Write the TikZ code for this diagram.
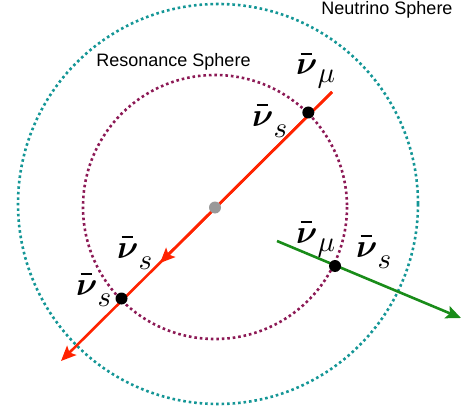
\documentclass[tikz,border=0pt]{standalone}
\usepackage{fontspec}
\setmainfont{Liberation Sans}
\usepackage{graphicx}
\usepackage{amsmath}
\usepackage{bm}
\usetikzlibrary{arrows.meta}
\definecolor{tealc}{RGB}{20,150,150}
\definecolor{maroonc}{RGB}{140,25,85}
\definecolor{redc}{RGB}{255,35,0}
\definecolor{greenc}{RGB}{25,140,25}
\newcommand\nulab[2]{\rlap{\hspace{4.5pt}\rule[20pt]{11pt}{2pt}}\scalebox{3.3}{$\bm{\nu}$}\raisebox{-#2pt}{\scalebox{2.9}{$#1$}}}
\tikzset{
  dotline/.style={line width=2.6pt, dash pattern=on 2.6pt off 2.9pt},
  ray/.style={line width=2.6pt, -{Stealth[length=15pt,width=13pt,inset=3pt]}},
  bdot/.style={circle, fill=black, inner sep=0pt, minimum size=12pt},
  gdot/.style={circle, fill=black!40, inner sep=0pt, minimum size=12pt},
  sph/.style={font=\fontsize{18}{21}\selectfont, anchor=base, inner sep=0pt},
  lab/.style={anchor=base west, inner sep=0pt}
}
\begin{document}
\begin{tikzpicture}[x=1pt,y=-1pt]
\useasboundingbox (0,0) rectangle (469,412);
% spheres
\draw[dotline, tealc] (218,204) circle[radius=200];
\draw[dotline, maroonc] (215,207) circle[radius=132];
\node[sph] (ns) at (387,15) {Neutrino Sphere};
\node[sph] (rs) at (173.5,66.5) {Resonance Sphere};
% red ray
\coordinate (rA) at (332,92);
\coordinate (rM) at (160,263);
\coordinate (rB) at (61,361);
\draw[ray, redc] (rA) -- (rM);
\draw[ray, redc] (rA) -- (rB);
% green ray
\coordinate (gA) at (277,241);
\coordinate (gB) at (461,318);
\draw[ray, greenc] (gA) -- (gB);
% dots
\node[gdot] (c) at (215,207.5) {};
\node[bdot] (d1) at (308.3,112.5) {};
\node[bdot] (d2) at (121.5,298.5) {};
\node[bdot] (d3) at (335,266) {};
% labels
\node[lab] (l1) at (296,75) {\nulab{\mu}{8}};
\node[lab] (l2) at (252,126) {\nulab{s}{11}};
\node[lab] (l3) at (117,258) {\nulab{s}{11}};
\node[lab] (l4) at (76,295) {\nulab{s}{11}};
\node[lab] (l5) at (296,243) {\nulab{\mu}{8}};
\node[lab] (l6) at (356,257) {\nulab{s}{11}};
\end{tikzpicture}
\end{document}
